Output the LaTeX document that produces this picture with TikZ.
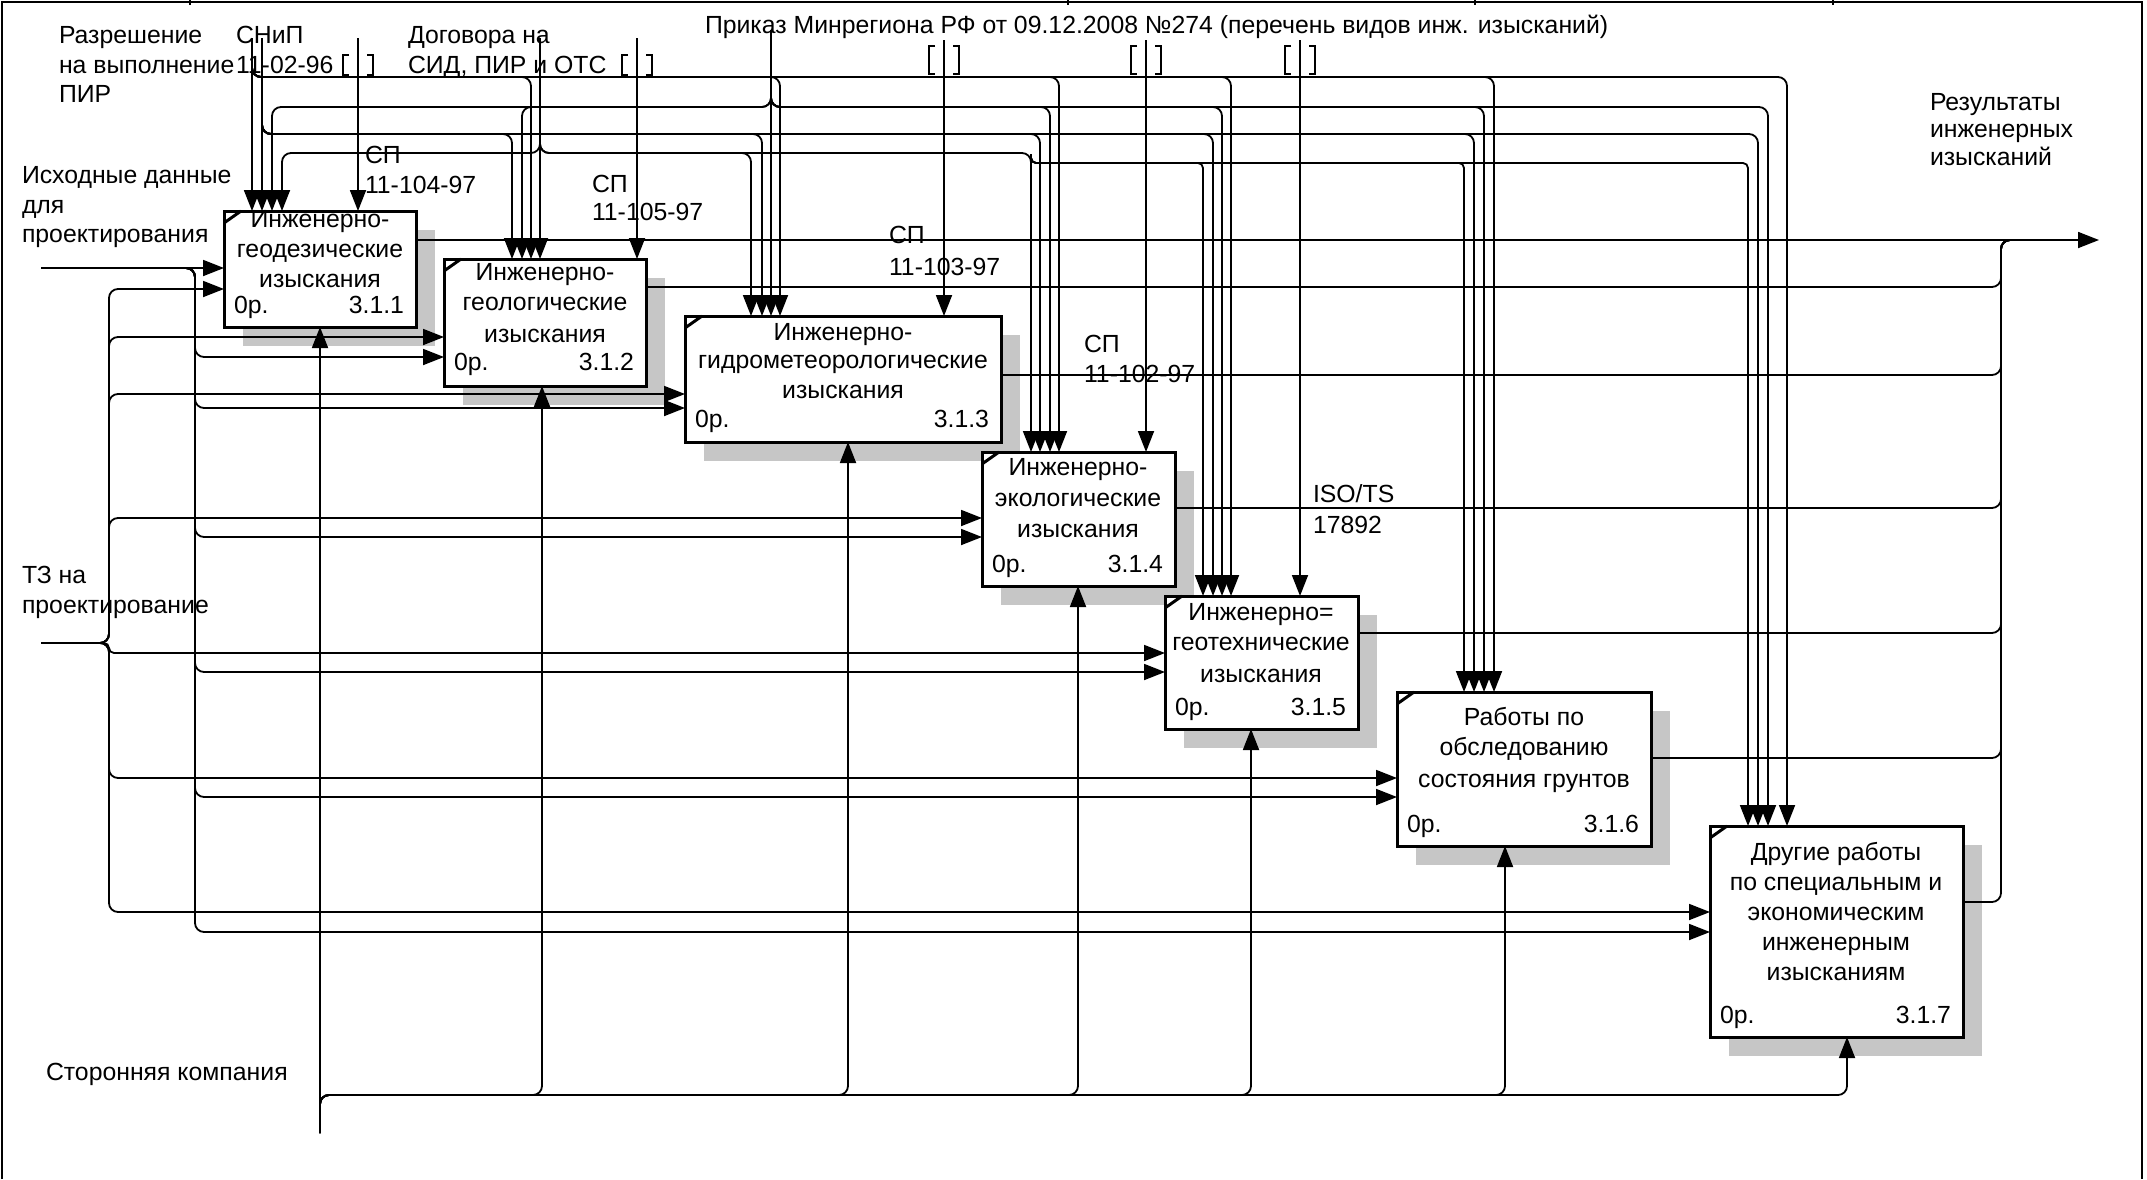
\documentclass[tikz,border=0pt]{standalone}
\usepackage{fontspec}
\setmainfont{Liberation Sans}
\usetikzlibrary{arrows.meta}
\newcommand\dfont{\fontsize{24.8}{30}\selectfont}
\begin{document}
\begin{tikzpicture}[x=1pt,y=-1pt,
  every node/.style={inner sep=0pt, outer sep=0pt},
  lbl/.style={font=\dfont, anchor=base west},
  lblc/.style={font=\dfont, anchor=base},
  lble/.style={font=\dfont, anchor=base east},
  fbox/.style={draw, line width=3pt, fill=white, rectangle, anchor=north west},
  shad/.style={fill=gray!45},
  conn/.style={line width=1.8pt, rounded corners=9pt},
  arr/.style={-{Triangle[length=21pt,width=16pt]}},
  brk/.style={line width=1.6pt},
  frame/.style={line width=2pt},
  corner/.style={line width=3pt}]

\useasboundingbox (0,0) rectangle (2147,1179);

% frame
\draw[frame] (2,1179) -- (2,1.5) -- (2142,1.5) -- (2142,1179);
\foreach \x in {190,1068,1475,1833} \draw[line width=1.5pt] (\x,0) -- (\x,5);

% shadows
\fill[shad] (243,230) rectangle ++(192,116);
\fill[shad] (463,278) rectangle ++(202,127);
\fill[shad] (704,335) rectangle ++(316,126);
\fill[shad] (1001,471) rectangle ++(193,134);
\fill[shad] (1184,615) rectangle ++(193,133);
\fill[shad] (1416,711) rectangle ++(254,154);
\fill[shad] (1729,845) rectangle ++(253,211);

% boxes
\node[fbox, minimum width=192pt, minimum height=116pt] (b1) at (224,211) {};
\node[fbox, minimum width=202pt, minimum height=127pt] (b2) at (444,259) {};
\node[fbox, minimum width=316pt, minimum height=126pt] (b3) at (685,316) {};
\node[fbox, minimum width=193pt, minimum height=134pt] (b4) at (982,452) {};
\node[fbox, minimum width=193pt, minimum height=133pt] (b5) at (1165,596) {};
\node[fbox, minimum width=254pt, minimum height=154pt] (b6) at (1397,692) {};
\node[fbox, minimum width=253pt, minimum height=211pt] (b7) at (1710,826) {};
\foreach \b in {b1,b2,b3,b4,b5,b6,b7}
  \draw[corner] ([yshift=-12pt]\b.north west) -- ([xshift=17pt]\b.north west);

% source coordinates
\coordinate (s1) at (252,38);
\coordinate (s2) at (262,38);
\coordinate (sd) at (540,38);
\coordinate (sp) at (771,30);
\coordinate (ish) at (41,268);
\coordinate (tz) at (41,643);
\coordinate (mech) at (320,1133);
\coordinate (out) at (2099,240);

% controls: direct
\draw[conn,arr] (s1) -- (s1 |- b1.north);
\draw[conn,arr] (s2) -- (s2 |- b1.north);
\draw[conn,arr] (sd) -- (sd |- b2.north);
\draw[conn,arr] (sp) -- (sp |- b3.north);
% bus A (y 77)
\foreach \x/\b in {531/b2,780/b3,1059/b4,1231/b5,1494/b6,1787/b7}
  \draw[conn,arr] (252,60) -- (252,77) -- (\x,77) -- (\x,0 |- \b.north);
% bus B (y 107) from Prikaz
\foreach \x/\b in {272/b1,522/b2,1050/b4,1222/b5,1484/b6,1768/b7}
  \draw[conn,arr] (771,90) -- (771,107) -- (\x,107) -- (\x,0 |- \b.north);
% bus C (y 134)
\foreach \x/\b in {512/b2,762/b3,1040/b4,1213/b5,1474/b6,1758/b7}
  \draw[conn,arr] (262,115) -- (262,134) -- (\x,134) -- (\x,0 |- \b.north);
% bus D (y 153) from Dogovora
\foreach \x/\b in {282/b1,751/b3,1031/b4}
  \draw[conn,arr] (540,135) -- (540,153) -- (\x,153) -- (\x,0 |- \b.north);
\foreach \x/\b in {1203/b5,1464/b6,1748/b7}
  \draw[conn,rounded corners=5pt,arr] (1031,154) -- (1031,163) -- (\x,163) -- (\x,0 |- \b.north);

% tunnelled controls
\foreach \x/\y/\b in {358/38/b1,637/38/b2,944/40/b3,1146/40/b4,1300/40/b5}
  \draw[conn,arr] (\x,\y) -- (\x,0 |- \b.north);
\foreach \x/\ya/\yb in {358/55/75,637/55/75,944/46/74,1146/46/74,1300/46/74}{
  \draw[brk] (\x-9,\ya) -- (\x-15,\ya) -- (\x-15,\yb) -- (\x-9,\yb);
  \draw[brk] (\x+9,\ya) -- (\x+15,\ya) -- (\x+15,\yb) -- (\x+9,\yb);
}

% inputs
\draw[conn,arr] (ish) -- (ish -| b1.west);
\foreach \y/\b in {357/b2,408/b3,537/b4,672/b5,797/b6,932/b7}
  \draw[conn,arr] (ish) -- (195,268) -- (195,\y) -- (\b.west |- 0,\y);
\foreach \y/\b in {289/b1,337/b2,394/b3,518/b4,778/b6,912/b7}
  \draw[conn,arr] (tz) -- (109,643) -- (109,\y) -- (\b.west |- 0,\y);
\draw[conn,rounded corners=5pt,arr] (tz) -- (109,643) -- (109,653) -- (b5.west |- 0,653);

% mechanism
\draw[conn,arr] (mech) -- (mech |- b1.south);
\foreach \x/\b in {542/b2,848/b3,1078/b4,1251/b5,1505/b6,1847/b7}
  \draw[conn,arr] (mech) -- (320,1095) -- (\x,1095) -- (\x,0 |- \b.south);

% outputs
\draw[conn,arr] (b1.east |- 0,240) -- (out);
\foreach \y/\b in {287/b2,375/b3,508/b4,633/b5,758/b6,902/b7}
  \draw[conn] (\b.east |- 0,\y) -- (2001,\y) -- (2001,240) -- (2050,240);

% box texts
\node[lblc] (t1a) at (320,227) {Инженерно-};
\node[lblc] (t1b) at (320,257) {геодезические};
\node[lblc] (t1c) at (320,287) {изыскания};
\node[lbl] (t1d) at (234,313) {0р.};
\node[lble] (t1e) at (404,313) {3.1.1};

\node[lblc] (t2a) at (545,280) {Инженерно-};
\node[lblc] (t2b) at (545,310) {геологические};
\node[lblc] (t2c) at (545,342) {изыскания};
\node[lbl] (t2d) at (454,370) {0р.};
\node[lble] (t2e) at (634,370) {3.1.2};

\node[lblc] (t3a) at (843,340) {Инженерно-};
\node[lblc] (t3b) at (843,368) {гидрометеорологические};
\node[lblc] (t3c) at (843,398) {изыскания};
\node[lbl] (t3d) at (695,427) {0р.};
\node[lble] (t3e) at (989,427) {3.1.3};

\node[lblc] (t4a) at (1078,475) {Инженерно-};
\node[lblc] (t4b) at (1078,506) {экологические};
\node[lblc] (t4c) at (1078,537) {изыскания};
\node[lbl] (t4d) at (992,572) {0р.};
\node[lble] (t4e) at (1163,572) {3.1.4};

\node[lblc] (t5a) at (1261,620) {Инженерно=};
\node[lblc] (t5b) at (1261,650) {геотехнические};
\node[lblc] (t5c) at (1261,682) {изыскания};
\node[lbl] (t5d) at (1175,715) {0р.};
\node[lble] (t5e) at (1346,715) {3.1.5};

\node[lblc] (t6a) at (1524,725) {Работы по};
\node[lblc] (t6b) at (1524,755) {обследованию};
\node[lblc] (t6c) at (1524,787) {состояния грунтов};
\node[lbl] (t6d) at (1407,832) {0р.};
\node[lble] (t6e) at (1639,832) {3.1.6};

\node[lblc] (t7a) at (1836,860) {Другие работы};
\node[lblc] (t7b) at (1836,890) {по специальным и};
\node[lblc] (t7c) at (1836,920) {экономическим};
\node[lblc] (t7d) at (1836,950) {инженерным};
\node[lblc] (t7e) at (1836,980) {изысканиям};
\node[lbl] (t7f) at (1720,1023) {0р.};
\node[lble] (t7g) at (1951,1023) {3.1.7};

% labels
\node[lbl] (lr1) at (59,43) {Разрешение};
\node[lbl] (lr2) at (59,73) {на выполнение};
\node[lbl] (lr3) at (59,102) {ПИР};
\node[lbl] (ls1) at (236,43) {СНиП};
\node[lbl] (ls2) at (236,73) {11-02-96};
\node[lbl] (ld1) at (408,43) {Договора на};
\node[lbl] (ld2) at (408,73) {СИД, ПИР и ОТС};
\node[lbl] (lp) at (705,33) {Приказ Минрегиона РФ от 09.12.2008 №274 (перечень видов инж. изысканий)};
\node[lbl] (li1) at (22,183) {Исходные данные};
\node[lbl] (li2) at (22,213) {для};
\node[lbl] (li3) at (22,242) {проектирования};
\node[lbl] (lt1) at (22,583) {ТЗ на};
\node[lbl] (lt2) at (22,613) {проектирование};
\node[lbl] (lm) at (46,1080) {Сторонняя компания};
\node[lbl] (lo1) at (1930,110) {Результаты};
\node[lbl] (lo2) at (1930,137) {инженерных};
\node[lbl] (lo3) at (1930,165) {изысканий};
\node[lbl] (lc1a) at (365,163) {СП};
\node[lbl] (lc1b) at (365,193) {11-104-97};
\node[lbl] (lc2a) at (592,192) {СП};
\node[lbl] (lc2b) at (592,220) {11-105-97};
\node[lbl] (lc3a) at (889,243) {СП};
\node[lbl] (lc3b) at (889,275) {11-103-97};
\node[lbl] (lc4a) at (1084,352) {СП};
\node[lbl] (lc4b) at (1084,382) {11-102-97};
\node[lbl] (lc5a) at (1313,502) {ISO/TS};
\node[lbl] (lc5b) at (1313,533) {17892};
\end{tikzpicture}
\end{document}
